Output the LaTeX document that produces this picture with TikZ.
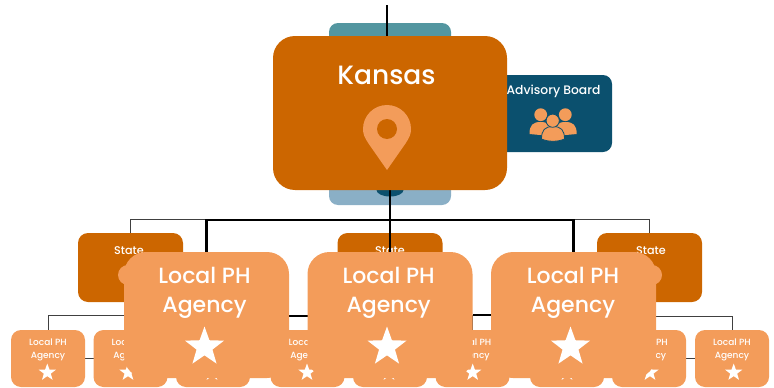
\documentclass[tikz,border=0pt]{standalone}
\usepackage{fontspec}
\setmainfont{Poppins Medium}
\usetikzlibrary{shapes.geometric}
\definecolor{kansasorange}{HTML}{CC6600}
\definecolor{peach}{HTML}{F39C5A}
\definecolor{tealbox}{HTML}{5396A0}
\definecolor{bluebox}{HTML}{8AAFC6}
\definecolor{navy}{HTML}{0B506E}
\pgfdeclarelayer{under}
\pgfdeclarelayer{wires}
\pgfsetlayers{under,wires,main}
\tikzset{
  boxbase/.style={inner sep=0pt,outer sep=0pt,draw=none},
  kansasbox/.style={boxbase,fill=kansasorange,minimum width=234pt,minimum height=154pt,rounded corners=22pt},
  statebox/.style={boxbase,fill=kansasorange,minimum width=105pt,minimum height=69pt,rounded corners=10pt},
  bigbox/.style={boxbase,fill=peach,minimum width=165pt,minimum height=126pt,rounded corners=22pt},
  smallbox/.style={boxbase,fill=peach,minimum width=74pt,minimum height=57pt,rounded corners=10pt},
  boardbox/.style={boxbase,fill=navy,minimum width=132pt,minimum height=77pt,rounded corners=9pt},
  backbox/.style={boxbase,minimum width=122pt,rounded corners=9pt},
  startxt/.style={star,star points=5,star point ratio=2.45,fill=white,draw=none,inner sep=0pt},
  bigstar/.style={startxt,minimum size=41pt},
  tinystar/.style={startxt,minimum size=18pt},
  labeltxt/.style={inner sep=0pt,text=white,align=center},
  heavy/.style={line width=2.4pt,black},
  light/.style={line width=1pt,black!75},
}
% #1 name, #2 box centre, #3 star centre
\newcommand{\smallagency}[3]{%
  \node[smallbox] (#1) at (#2,358.5) {};
  \node[labeltxt,font=\fontsize{9}{13}\selectfont] (#1txt) at (#2,349.5) {Local PH\\Agency};
  \node[tinystar] (#1star) at (#3,372.5) {};
}
% #1 name, #2 box centre, #3 text centre, #4 star centre
\newcommand{\bigagency}[4]{%
  \node[bigbox] (#1) at (#2,315) {};
  \node[labeltxt,font=\fontsize{22}{29}\selectfont] (#1txt) at (#3,293) {Local PH\\Agency};
  \node[bigstar] (#1star) at (#4,347) {};
}
\begin{document}
\begin{tikzpicture}[x=1pt,y=-1pt]
\useasboundingbox (0,0) rectangle (774,388);
% boxes behind the connectors
\begin{pgfonlayer}{under}
  \node[backbox,fill=tealbox,minimum height=60pt] (teal) at (390,53) {};
  \node[backbox,fill=bluebox,minimum height=60pt] (blue) at (390,175) {};
  \node[boardbox] (board) at (546,113.5) {};
  \fill[navy] (390,190) ellipse [x radius=13.5pt,y radius=6.5pt];
  \node[statebox] (stateL) at (130.5,267.5) {};
  \node[statebox] (stateM) at (390,267.5) {};
  \node[statebox] (stateR) at (649.5,267.5) {};
  \node[labeltxt,font=\fontsize{11.2}{12}\selectfont] (stateLtxt) at (129,250.5) {State};
  \node[labeltxt,font=\fontsize{11.2}{12}\selectfont] (stateMtxt) at (390,250.5) {State};
  \node[labeltxt,font=\fontsize{11.2}{12}\selectfont] (stateRtxt) at (651,250.5) {State};
\end{pgfonlayer}
\coordinate (topend) at (387,5);
\coordinate (busheavy) at (390,220);
\coordinate (buslight) at (390,219);
\coordinate (rowL) at (124,315);
\coordinate (rowR) at (656,316);
% state dots
\fill[peach] (128,275) circle [radius=10pt];
\fill[peach] (652,275) circle [radius=10pt];
% small agencies
\smallagency{sa}{48}{47.3}
\smallagency{sb}{130.5}{128}
\smallagency{sc}{213}{212}
\smallagency{sd}{307.5}{307}
\smallagency{se}{390}{389}
\smallagency{sf}{472.5}{472.7}
\smallagency{sg}{567}{567}
\smallagency{sh}{649}{650}
\smallagency{si}{732}{733.7}
% Kansas
\node[kansasbox] (kansas) at (390,113) {};
\node[labeltxt,font=\fontsize{26.5}{30}\selectfont] (kansastxt) at (386.5,75) {Kansas};
\fill[peach] (387,170) -- (368.5,143.5) .. controls (364.5,137.5) and (363,134) .. (363,129)
  arc [start angle=180,end angle=0,radius=24pt]
  .. controls (411,134) and (409.5,137.5) .. (405.5,143.5) -- cycle;
\fill[kansasorange] (387,129) circle [radius=10pt];
% advisory board
\node[labeltxt,font=\fontsize{12.3}{12}\selectfont] (boardtxt) at (553.5,91) {Advisory Board};
\fill[peach] (529.5,134) .. controls (529.5,125) and (533,122) .. (540.5,122) .. controls (548,122) and (551,125) .. (551,134) -- (540,135) -- cycle;
\fill[peach] (540.7,114.7) circle [radius=6.4pt];
\fill[peach] (555,134) .. controls (555,125) and (558,122) .. (565.5,122) .. controls (573,122) and (576.7,125) .. (576.7,134) -- (566,135) -- cycle;
\fill[peach] (565.3,114.7) circle [radius=6.4pt];
\fill[peach,draw=navy,line width=0.8pt] (541.5,139) .. controls (541.5,130) and (545,126.5) .. (553,126.5) .. controls (561,126.5) and (564.5,130) .. (564.5,139) .. controls (558,142) and (548,142) .. (541.5,139) -- cycle;
\fill[peach,draw=navy,line width=0.8pt] (552.7,120.7) circle [radius=6.6pt];
% large agencies
\bigagency{bigL}{206.5}{204.5}{204.5}
\bigagency{bigM}{390}{388.7}{387}
\bigagency{bigR}{573.5}{573}{570.5}
% connectors
\begin{pgfonlayer}{wires}
  \draw[heavy] (topend) -- (topend |- kansas.north);
  \draw[heavy] (kansas.south) -- (bigM.north);
  \draw[light] (stateL.north) |- (buslight) -| (stateR.north);
  \draw[heavy] (bigL.north) |- (busheavy) -| (bigR.north);
  \draw[light] (sa.north) |- (rowL);
  \draw[light] (si.north) |- (rowR);
  \draw[light] (sa.east) -- (sb.west);
  \draw[light] (sh.east) -- (si.west);
  \draw[heavy] (bigL.east |- 0,316) -- (bigM.west |- 0,316);
  \draw[heavy] (bigM.east |- 0,315) -- (bigR.west |- 0,315);
  \draw[light] (sf.north) -- (sf.north |- 0,315);
\end{pgfonlayer}
\end{tikzpicture}
\end{document}
